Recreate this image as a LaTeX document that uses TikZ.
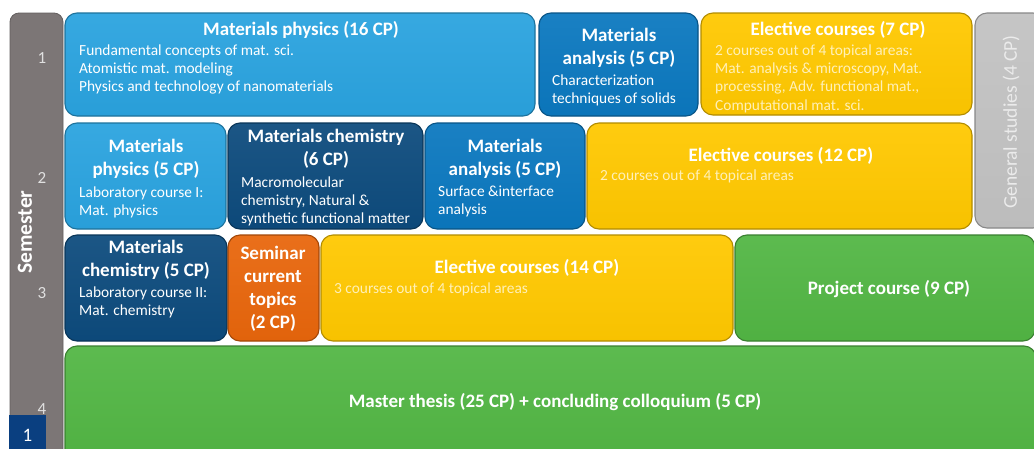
\documentclass[tikz,border=0pt]{standalone}
\usepackage{fontspec}
\setmainfont{Carlito}
\definecolor{lblue}{HTML}{2AA3DF}
\definecolor{mblue}{HTML}{0B78BF}
\definecolor{dblue}{HTML}{0D4B7D}
\definecolor{cyellow}{HTML}{FFC800}
\definecolor{corange}{HTML}{E8660C}
\definecolor{cgreen}{HTML}{52B644}
\definecolor{lgray}{HTML}{C2C2C2}
\definecolor{bargray}{HTML}{7C7676}
\definecolor{numblue}{HTML}{0A3F80}
\definecolor{pale}{HTML}{FFF0B8}
\newcommand\bl[1]{\begin{tabular}[t]{@{}l@{}}#1\end{tabular}}
\newcommand\cl[1]{\begin{tabular}[t]{@{}c@{}}#1\end{tabular}}
\newcommand\cbox[6]{\node[cb, top color=#6!94!white, bottom color=#6!97!black, draw=#6!70!black,
  minimum width={(#4)-(#2)}, minimum height={(#5)-(#3)}] (#1) at ({((#2)+(#4))/2},{((#3)+(#5))/2}) {};}
\tikzset{
  cb/.style={rectangle, rounded corners=12pt, line width=1.1pt, inner sep=0pt},
  ttl/.style={font=\bfseries\fontsize{19}{23}\selectfont, text=white, inner sep=0pt, anchor=base},
  bdy/.style={font=\fontsize{15.4}{18.4}\selectfont, text=white, inner sep=0pt, anchor=base west},
  ybdy/.style={bdy, text=pale},
  num/.style={font=\fontsize{17}{20}\selectfont, text=white!88!black, inner sep=0pt, anchor=base},
}
\begin{document}
\begin{tikzpicture}[x=1pt,y=-1pt]
\clip (0,0) rectangle (1034,448);
\fill[white] (0,0) rectangle (1034,448);
% semester bar
\node[rectangle, rounded corners=9pt, fill=bargray, draw=bargray!80!black, line width=0.8pt,
  minimum width=53, minimum height=480, inner sep=0pt] (bar) at (36.5,253) {};
\node[font=\bfseries\fontsize{21.5}{24}\selectfont, text=white, rotate=90, inner sep=0pt] (sem) at (25,232) {Semester};
\node[num] (n1) at (42,63) {1};
\node[num] (n2) at (42,183) {2};
\node[num] (n3) at (42,298) {3};
\node[num] (n4) at (42,414) {4};
\node[rectangle, fill=numblue, minimum width=37, minimum height=36, inner sep=0pt] (pg) at (27.5,433) {};
\node[font=\fontsize{19}{22}\selectfont, text=white, inner sep=0pt, anchor=base] (pgn) at (27.5,441) {1};
% row 1
\cbox{mp16}{65}{13}{535}{116}{lblue}
\node[ttl] (mp16t) at (301,35) {\cl{Materials physics (16 CP)}};
\node[bdy] (mp16b) at (79,55) {\bl{Fundamental concepts of mat. sci.\\Atomistic mat. modeling\\Physics and technology of nanomaterials}};
\cbox{ma5a}{539}{13}{698}{116}{mblue}
\node[ttl] (ma5at) at (619,41) {\cl{Materials\\analysis (5 CP)}};
\node[bdy] (ma5ab) at (552,85) {\bl{Characterization\\techniques of solids}};
\cbox{ec7}{701}{13}{972}{115}{cyellow}
\node[ttl] (ec7t) at (838,35) {\cl{Elective courses (7 CP)}};
\node[ybdy] (ec7b) at (715,55) {\bl{2 courses out of 4 topical areas:\\Mat. analysis \& microscopy, Mat.\\processing, Adv. functional mat.,\\Computational mat. sci.}};
\cbox{gs}{975}{13}{1045}{228}{lgray}
\node[font=\fontsize{19.5}{22}\selectfont, text=white!92!black, rotate=90, inner sep=0pt] (gst) at (1011,122) {General studies (4 CP)};
% row 2
\cbox{mp5}{65}{123}{226}{229}{lblue}
\node[ttl] (mp5t) at (146,152) {\cl{Materials\\physics (5 CP)}};
\node[bdy] (mp5b) at (79,197) {\bl{Laboratory course I:\\Mat. physics}};
\cbox{mc6}{228}{123}{423}{229}{dblue}
\node[ttl] (mc6t) at (326,142) {\cl{Materials chemistry\\(6 CP)}};
\node[bdy] (mc6b) at (241,187) {\bl{Macromolecular\\chemistry, Natural \&\\synthetic functional matter}};
\cbox{ma5b}{425}{123}{585}{229}{mblue}
\node[ttl] (ma5bt) at (505,152) {\cl{Materials\\analysis (5 CP)}};
\node[bdy] (ma5bb) at (438,196) {\bl{Surface \&interface\\analysis}};
\cbox{ec12}{587}{123}{972}{229}{cyellow}
\node[ttl] (ec12t) at (781,161) {\cl{Elective courses (12 CP)}};
\node[ybdy] (ec12b) at (600,180) {\bl{2 courses out of 4 topical areas}};
% row 3
\cbox{mc5}{65}{235}{227}{341}{dblue}
\node[ttl] (mc5t) at (146,253) {\cl{Materials\\chemistry (5 CP)}};
\node[bdy] (mc5b) at (79,297) {\bl{Laboratory course II:\\Mat. chemistry}};
\cbox{sem}{228}{235}{319}{341}{corange}
\node[ttl] (semt) at (273,259) {\cl{Seminar\\current\\topics\\(2 CP)}};
\cbox{ec14}{321}{235}{733}{341}{cyellow}
\node[ttl] (ec14t) at (527,273) {\cl{Elective courses (14 CP)}};
\node[ybdy] (ec14b) at (334,293) {\bl{3 courses out of 4 topical areas}};
\cbox{pc}{735}{235}{1035}{341}{cgreen}
\node[ttl] (pct) at (889,294) {\cl{Project course (9 CP)}};
% row 4
\cbox{mt}{65}{346}{1036}{462}{cgreen}
\node[ttl] (mtt) at (555,407) {\cl{Master thesis (25 CP) + concluding colloquium (5 CP)}};
\end{tikzpicture}
\end{document}
